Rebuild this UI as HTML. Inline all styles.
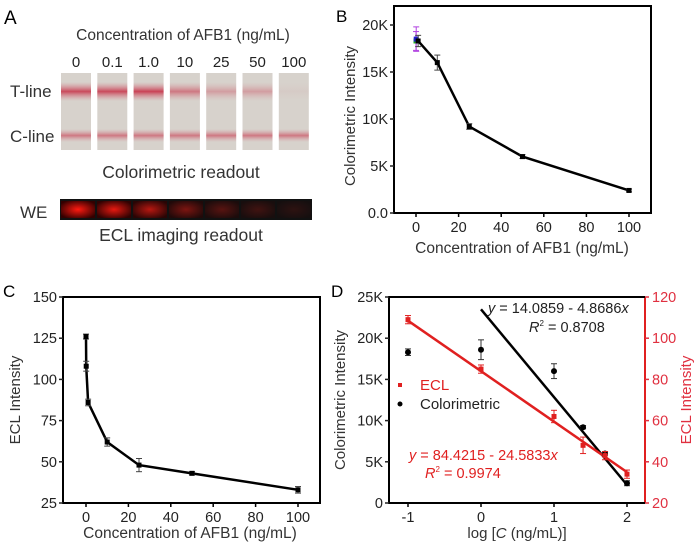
<!DOCTYPE html>
<html><head><meta charset="utf-8"><style>
body{margin:0;background:#fff;}
svg{display:block;font-family:"Liberation Sans",Arial,sans-serif;}
</style></head><body>
<svg id="fig" width="700" height="546" viewBox="0 0 700 546">
<defs>
<linearGradient id="tband" x1="0" y1="0" x2="0" y2="1"><stop offset="0" stop-color="#d98a94" stop-opacity="0"/><stop offset="0.5" stop-color="#c8394e"/><stop offset="1" stop-color="#d98a94" stop-opacity="0"/></linearGradient>
<radialGradient id="glow" cx="0.5" cy="0.5" r="0.6"><stop offset="0" stop-color="#ff1a10"/><stop offset="1" stop-color="#300"/></radialGradient>
</defs>
<g>
<text x="4" y="24" font-size="19">A</text>
<text x="183" y="40" font-size="15.5" text-anchor="middle" fill="#333">Concentration of AFB1 (ng/mL)</text>
<text x="10" y="97" font-size="17" fill="#333">T-line</text>
<text x="10" y="142" font-size="17" fill="#333">C-line</text>
<g id="strips"></g>
<text x="181" y="178" font-size="17.5" text-anchor="middle" fill="#333">Colorimetric readout</text>
<text x="20" y="218" font-size="17" fill="#333">WE</text>
<rect x="60" y="199" width="252" height="21" fill="#111"/>
<g id="ecl"></g>
<text x="181" y="241" font-size="17.5" text-anchor="middle" fill="#333">ECL imaging readout</text>
</g>
<text x="336" y="22" font-size="17">B</text>
<text x="3" y="297" font-size="17">C</text>
<text x="331" y="297" font-size="17">D</text>
<g id="pb"></g>
<g id="pc"></g>
<g id="pd"></g>
</svg>
<script>
const stripLabels=["0","0.1","1.0","10","25","50","100"];
const tIntensity=[0.9,0.9,0.95,0.6,0.35,0.35,0.05];
const eclGlow=[1,0.9,0.7,0.45,0.3,0.2,0.12];
const concB=[0,0.1,1,10,25,50,100];
const colorB=[18300,18500,18300,16000,9200,6000,2400];
const errB=[1000,1300,600,800,300,200,150];
const concC=[0,0.1,1,10,25,50,100];
const eclC=[126,108,86,62,48,43,33];
const errC=[1.5,3,2,2.5,4,1,2];
const logD=[-1,0,1,1.398,1.699,2];
const colorD=[18300,18600,16000,9200,6000,2400];
const colorErrD=[400,1200,900,200,200,300];
const eclD=[109,85,62,48,43,34];
const eclErrD=[2,2,3,4,2,2];
const bTicks=["0.0","5K","10K","15K","20K"], bTickVals=[0,5000,10000,15000,20000];
const xTicks=[0,20,40,60,80,100];
const cTicks=[25,50,75,100,125,150];
const dLeftTicks=["0","5K","10K","15K","20K","25K"], dLeftVals=[0,5000,10000,15000,20000,25000];
const dRightTicks=[20,40,60,80,100,120];
const dXTicks=[-1,0,1,2];

const NS="http://www.w3.org/2000/svg";
function mk(p,tag,a,txt){const e=document.createElementNS(NS,tag);for(const k in a)e.setAttribute(k,a[k]);if(txt!==undefined)e.textContent=txt;p.appendChild(e);return e;}

const sg=document.getElementById('strips');
const eg=document.getElementById('ecl');
stripLabels.forEach((l,i)=>{
  const x=61+i*36.3;
  let t=mk(sg,'text',{x:x+15,y:67,'font-size':15,'text-anchor':'middle',fill:'#222'},l);
  
  
  let r=mk(sg,'rect',{x:x,y:73,width:30,height:77,fill:'#d7d2cc'});
  
  
  let tb=mk(sg,'rect',{x:x,y:82,width:30,height:19,fill:'url(#tband)',opacity:tIntensity[i]});
  
  
  let cb=mk(sg,'rect',{x:x,y:129,width:30,height:13,fill:'url(#tband)',opacity:0.6});
  
  
  let ex=61+i*36;
  let er=mk(eg,'rect',{x:ex,y:201,width:34,height:17,fill:'url(#glow)',opacity:eclGlow[i]});
  
  
});

function lin(d0,d1,r0,r1){return v=>r0+(v-d0)*(r1-r0)/(d1-d0);}
function frame(g,x0,y0,x1,y1){
  const f=mk(g,'rect',{x:x0,y:y0,width:x1-x0,height:y1-y0,fill:'none',stroke:'#000','stroke-width':2});
  
  
}
function errbar(g,x,y1,y2,col){
  mk(g,'line',{x1:x,x2:x,y1:y1,y2:y2,stroke:col,'stroke-width':1});
  mk(g,'line',{x1:x-3,x2:x+3,y1:y1,y2:y1,stroke:col,'stroke-width':1});
  mk(g,'line',{x1:x-3,x2:x+3,y1:y2,y2:y2,stroke:col,'stroke-width':1});
}
function yTick(g,x,y,label,col,side){
  mk(g,'line',{x1:x,x2:x+(side?4:-4),y1:y,y2:y,stroke:col,'stroke-width':1.5});
  const t=mk(g,'text',{x:side?x+7:x-6,y:y+5,'font-size':14.5,'text-anchor':side?'start':'end',fill:col},label);
  
  
}
function xTick(g,x,y,label){
  mk(g,'line',{x1:x,x2:x,y1:y,y2:y+4,stroke:'#000','stroke-width':1.5});
  const t=mk(g,'text',{x:x,y:y+19,'font-size':14.5,'text-anchor':'middle',fill:'#222'},label);
  
  
}
function ytitle(g,x,y,txt,col){
  const t=mk(g,'text',{x:x,y:y,'font-size':15,'text-anchor':'middle',fill:col||'#333',transform:`rotate(-90 ${x} ${y})`},txt);
  
  
  return t;
}
function xtitle(g,x,y,txt){
  const t=mk(g,'text',{x:x,y:y,'font-size':15.5,'text-anchor':'middle',fill:'#333'},txt);
  
  
}

(function(){
  const g=document.getElementById('pb');
  const X=lin(0,100,416,629), Y=lin(0,20000,213,25);
  frame(g,394,6,651,213);
  bTickVals.forEach((v,i)=>yTick(g,394,Y(v),bTicks[i],'#222',false));
  xTicks.forEach(v=>xTick(g,X(v),213,String(v)));
  ytitle(g,355,116,'Colorimetric Intensity');
  xtitle(g,522,253,'Concentration of AFB1 (ng/mL)');
  const pts=concB.map((c,i)=>X(c)+','+Y(colorB[i])).join(' ');
  const l=mk(g,'polyline',{points:pts,fill:'none',stroke:'#000','stroke-width':2.5});
  
  
  concB.forEach((c,i)=>{
    errbar(g,X(c),Y(colorB[i]+errB[i]),Y(colorB[i]-errB[i]),i<2?'#b040e0':'#444');
    const p=mk(g,'rect',{x:X(c)-2.5,y:Y(colorB[i])-2.5,width:5,height:5,fill:i==0?'#2a2':(i==1?'#22c':'#000')});
    
    
  });
})();

(function(){
  const g=document.getElementById('pc');
  const X=lin(0,100,86,298), Y=lin(25,150,503,297);
  frame(g,63,297,320,503);
  cTicks.forEach(v=>yTick(g,63,Y(v),String(v),'#222',false));
  xTicks.forEach(v=>xTick(g,X(v),503,String(v)));
  ytitle(g,20,400,'ECL Intensity');
  xtitle(g,190,538,'Concentration of AFB1 (ng/mL)');
  const pts=concC.map((c,i)=>X(c)+','+Y(eclC[i])).join(' ');
  const l=mk(g,'polyline',{points:pts,fill:'none',stroke:'#000','stroke-width':2.5});
  
  
  concC.forEach((c,i)=>{
    errbar(g,X(c),Y(eclC[i]+errC[i]),Y(eclC[i]-errC[i]),'#444');
    const p=mk(g,'rect',{x:X(c)-2.5,y:Y(eclC[i])-2.5,width:5,height:5,fill:'#000'});
    
    
  });
})();

(function(){
  const g=document.getElementById('pd');
  const X=lin(-1,2,408,627), YL=lin(0,25000,503,297), YR=lin(20,120,503,297);
  mk(g,'line',{x1:645,x2:645,y1:297,y2:503,stroke:'#e02020','stroke-width':2});
  mk(g,'polyline',{points:'645,297 389,297 389,503 645,503',fill:'none',stroke:'#000','stroke-width':2});
  dLeftVals.forEach((v,i)=>yTick(g,389,YL(v),dLeftTicks[i],'#222',false));
  dRightTicks.forEach(v=>yTick(g,645,YR(v),String(v),'#e03040',true));
  dXTicks.forEach(v=>xTick(g,X(v),503,String(v)));
  ytitle(g,345,400,'Colorimetric Intensity');
  ytitle(g,691,400,'ECL Intensity','#e03040');
  const xt=mk(g,'text',{x:517,y:538,'font-size':15,'text-anchor':'middle',fill:'#333'});
  
  
  xt.innerHTML='log [<tspan font-style="italic">C</tspan> (ng/mL)]';
  const bl=mk(g,'line',{x1:X(0),y1:YL(23500),x2:X(2),y2:YL(2200),stroke:'#000','stroke-width':2.5});
  
  
  const rl=mk(g,'line',{x1:X(-1),y1:YR(108.5),x2:X(2),y2:YR(35),stroke:'#e02020','stroke-width':2.5});
  
  
  logD.forEach((x,i)=>{
    errbar(g,X(x),YL(colorD[i]+colorErrD[i]),YL(colorD[i]-colorErrD[i]),'#333');
    const p=mk(g,'circle',{cx:X(x),cy:YL(colorD[i]),r:3,fill:'#000'});
    
    
    errbar(g,X(x),YR(eclD[i]+eclErrD[i]),YR(eclD[i]-eclErrD[i]),'#e02020');
    const q=mk(g,'rect',{x:X(x)-2.5,y:YR(eclD[i])-2.5,width:5,height:5,fill:'#e02020'});
    
    
  });
  const lg=mk(g,'g',{});
  
  
  mk(lg,'rect',{x:398,y:383,width:4,height:4,fill:'#e02020'});
  let t1=mk(lg,'text',{x:420,y:390,'font-size':15,fill:'#e02020'},'ECL');
  
  
  mk(lg,'circle',{cx:400,cy:404,r:2.5,fill:'#000'});
  let t2=mk(lg,'text',{x:420,y:409,'font-size':15,fill:'#222'},'Colorimetric');
  
  
  const e1=mk(g,'text',{x:488,y:313,'font-size':14.5,fill:'#222'});
  
  
  e1.innerHTML='<tspan font-style="italic">y</tspan> = 14.0859 - 4.8686<tspan font-style="italic">x</tspan>';
  const e2=mk(g,'text',{x:529,y:332,'font-size':14.5,fill:'#222'});
  
  
  e2.innerHTML='<tspan font-style="italic">R</tspan><tspan font-size="8" dy="-6">2</tspan><tspan dy="6"> = 0.8708</tspan>';
  const e3=mk(g,'text',{x:409,y:460,'font-size':14.5,fill:'#e02020'});
  
  
  e3.innerHTML='<tspan font-style="italic">y</tspan> = 84.4215 - 24.5833<tspan font-style="italic">x</tspan>';
  const e4=mk(g,'text',{x:425,y:478,'font-size':14.5,fill:'#e02020'});
  
  
  e4.innerHTML='<tspan font-style="italic">R</tspan><tspan font-size="8" dy="-6">2</tspan><tspan dy="6"> = 0.9974</tspan>';
})();
</script>
</body></html>
